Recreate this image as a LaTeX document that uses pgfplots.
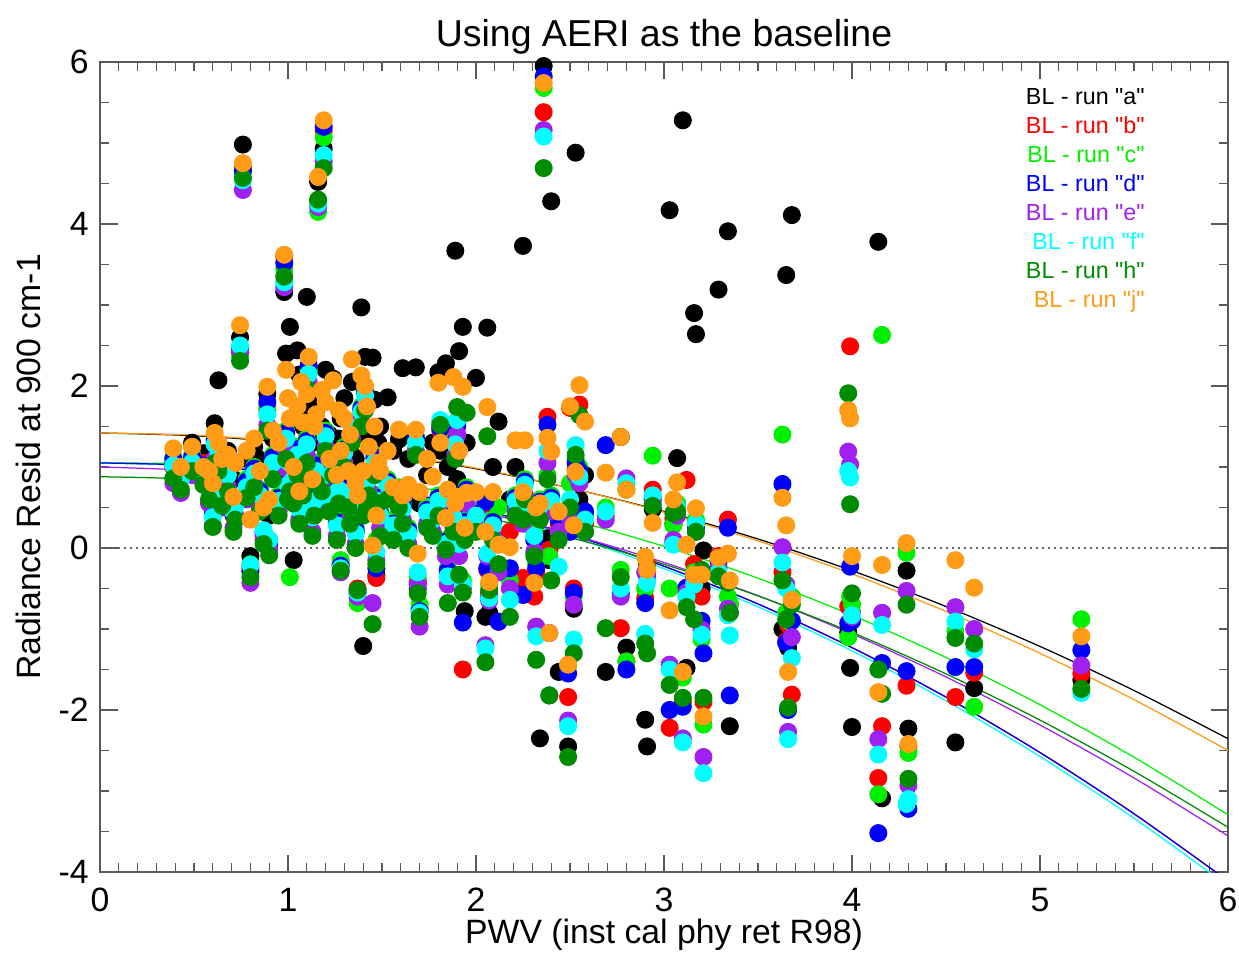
\documentclass[border=0pt]{standalone}
\usepackage{pgfplots}
\usepackage{pgfplotstable}
\pgfplotsset{compat=1.18}
\usepackage{fontspec}
\setmainfont{Liberation Sans}
\newfontfamily\legfont{Liberation Sans}
\definecolor{cA}{RGB}{0,0,0}
\definecolor{cB}{RGB}{255,0,0}
\definecolor{cC}{RGB}{0,240,0}
\definecolor{cD}{RGB}{0,0,255}
\definecolor{cE}{RGB}{160,32,240}
\definecolor{cF}{RGB}{0,255,255}
\definecolor{cH}{RGB}{0,140,0}
\definecolor{cJ}{RGB}{255,155,20}

\pgfplotstableread{
x a b c d e f h j
0.39 1.05 1.00 1.12 1.10 0.80 1.02 0.86 1.23
0.43 0.95 0.90 0.95 0.92 0.68 0.85 0.72 1.00
0.49 1.30 1.10 1.15 1.12 0.90 1.06 0.95 1.25
0.55 1.17 1.05 1.00 1.02 0.85 0.95 0.78 1.00
0.58 1.10 0.75 0.80 0.78 0.55 0.70 0.60 0.95
0.60 0.90 0.40 0.45 0.42 0.28 0.38 0.26 0.80
0.61 1.54 1.30 1.35 1.32 1.10 1.28 1.05 1.42
0.63 2.07 1.20 1.25 1.22 1.00 1.15 0.95 1.30
0.65 1.00 0.70 0.75 0.72 0.50 0.65 0.52 1.10
0.68 1.20 0.95 1.00 0.98 0.75 0.90 0.70 1.15
0.71 0.85 0.40 0.45 0.42 0.25 0.45 0.20 0.63
0.72 1.05 0.55 0.60 0.58 0.40 0.52 0.35 1.05
0.745 2.60 2.40 2.38 2.45 2.42 2.50 2.31 2.75
0.76 4.98 4.69 4.66 4.65 4.42 4.54 4.57 4.75
0.78 1.10 0.80 0.85 0.82 0.60 0.75 0.62 1.20
0.80 -0.10 -0.25 -0.20 -0.29 -0.43 -0.21 -0.36 0.35
0.82 1.25 0.95 1.00 0.98 0.78 0.92 0.75 1.35
0.85 1.09 0.70 0.72 0.70 0.50 0.65 0.45 0.95
0.87 0.60 0.10 0.20 0.18 0.15 0.22 0.05 0.50
0.89 1.90 1.70 1.75 1.80 1.52 1.65 1.45 1.99
0.90 0.40 0.00 0.10 0.05 -0.02 0.10 -0.09 0.60
0.92 1.35 1.10 1.15 1.12 0.95 1.05 0.85 1.45
0.95 1.20 0.60 0.65 0.62 0.45 0.58 0.40 1.30
0.98 3.16 3.60 3.45 3.52 3.22 3.28 3.35 3.62
0.99 2.40 1.40 1.45 1.42 1.20 1.35 1.10 2.20
1.00 1.30 0.80 0.85 0.82 0.65 0.78 0.60 1.85
1.01 2.73 1.15 -0.36 1.10 0.95 1.05 0.70 1.60
1.03 -0.15 0.85 0.90 0.88 0.70 0.85 0.55 1.00
1.05 2.44 1.20 1.25 1.22 1.00 1.15 0.90 1.75
1.06 2.14 0.50 0.55 0.52 0.35 0.48 0.30 0.70
1.07 1.60 1.00 1.05 1.02 0.85 0.98 0.75 2.05
1.08 1.50 0.90 0.95 0.92 0.75 0.88 0.65 1.55
1.10 3.10 1.30 1.35 1.32 1.15 1.28 1.05 1.90
1.11 1.80 2.25 2.20 2.25 2.05 2.15 1.95 2.36
1.13 1.30 0.40 0.45 0.42 0.20 0.38 0.15 0.85
1.14 1.40 0.60 0.65 0.62 0.45 0.58 0.40 1.50
1.15 1.70 1.00 1.05 1.02 0.85 0.95 0.80 1.65
1.16 4.52 4.28 4.15 4.25 4.21 4.25 4.30 4.58
1.18 1.50 0.90 0.95 0.92 0.75 0.88 0.70 1.95
1.19 4.93 5.15 5.07 5.20 4.77 4.85 4.69 5.28
1.20 2.20 1.40 1.45 1.42 1.25 1.38 1.20 1.80
1.22 1.40 0.65 0.70 0.68 0.50 0.62 0.45 1.10
1.24 2.09 1.10 1.15 1.12 0.95 1.05 0.90 2.07
1.26 1.20 0.30 0.35 0.32 0.15 0.28 0.10 0.90
1.27 1.35 0.75 0.80 0.78 0.60 0.72 0.55 1.70
1.28 1.60 -0.20 -0.15 -0.22 -0.30 -0.25 -0.28 1.20
1.30 1.85 1.20 1.25 1.22 1.05 1.18 1.00 1.60
1.32 1.30 0.70 0.75 0.72 0.55 0.68 0.50 0.95
1.33 1.25 0.50 0.55 0.52 0.35 0.48 0.30 1.40
1.34 2.05 1.50 1.55 1.52 1.35 1.48 1.30 2.33
1.36 1.10 0.20 0.25 0.22 0.05 0.18 0.00 0.80
1.37 0.90 -0.50 -0.68 -0.55 -0.60 -0.55 -0.52 0.65
1.39 2.97 1.70 1.75 1.72 1.55 1.68 1.50 2.13
1.40 -1.21 0.60 0.65 0.62 0.45 0.58 0.40 0.95
1.41 2.36 1.90 1.95 1.92 1.75 1.88 1.70 2.00
1.42 1.45 0.70 0.75 0.72 0.55 0.68 0.50 1.75
1.43 1.35 0.85 0.90 0.88 0.70 0.85 0.65 1.25
1.45 2.35 0.55 0.60 0.57 -0.68 0.52 -0.94 0.03
1.46 1.83 1.10 1.15 1.12 0.95 1.05 0.90 1.50
1.47 -0.33 -0.37 0.10 -0.25 -0.15 -0.05 -0.20 0.40
1.48 1.30 0.60 0.65 0.62 0.45 0.58 0.55 1.05
1.49 1.50 0.40 0.45 0.42 0.25 0.40 0.15 0.95
1.53 1.86 0.80 0.85 0.82 0.65 0.78 0.60 1.20
1.56 1.20 0.30 0.35 0.30 0.15 0.28 0.10 0.75
1.59 1.34 0.70 0.75 0.72 0.55 0.68 0.50 1.46
1.61 2.22 0.50 0.55 0.52 0.35 0.48 0.30 0.65
1.64 1.10 0.20 0.25 0.22 0.05 0.18 0.00 0.78
1.68 2.23 1.34 1.38 1.36 1.20 1.30 1.15 1.46
1.69 -0.43 -0.40 -0.35 -0.50 -0.45 -0.30 -0.56 -0.07
1.70 0.55 -0.75 -0.70 -0.78 -0.97 -0.80 -0.85 0.69
1.74 0.90 0.45 0.50 0.47 0.30 0.44 0.25 1.10
1.77 1.30 0.35 0.40 0.38 0.20 0.35 0.15 0.88
1.80 2.17 0.60 0.65 0.62 0.45 0.58 0.40 2.04
1.81 1.20 1.45 1.50 1.48 1.55 1.58 1.52 1.30
1.84 2.28 0.08 0.10 0.08 -0.10 0.05 -0.02 0.37
1.85 1.00 -0.30 -0.25 -0.28 -0.45 -0.35 -0.68 0.72
1.88 1.10 0.40 0.45 0.42 0.25 0.38 0.20 2.11
1.89 3.67 1.30 1.35 1.32 1.15 1.28 1.10 0.55
1.90 0.85 1.50 1.55 1.52 1.40 1.58 1.74 0.63
1.91 2.43 0.10 0.15 0.12 -0.10 0.05 -0.33 1.20
1.93 2.73 -1.50 -0.40 -0.92 -0.50 -0.45 -0.55 1.99
1.94 -0.78 0.30 0.35 0.32 0.15 0.28 0.10 0.25
1.95 1.30 0.70 0.75 0.72 0.55 0.68 1.67 0.68
2.00 2.10 0.40 0.45 0.42 0.25 0.40 0.20 0.69
2.05 -0.85 0.55 0.60 0.57 -1.20 -1.24 -1.41 0.20
2.06 2.72 -0.27 0.30 -0.25 -0.10 -0.07 1.38 1.74
2.07 -0.80 -0.55 -0.45 -0.60 -0.65 -0.62 -0.52 -0.42
2.09 1.00 0.30 0.35 0.32 0.15 0.28 0.10 0.69
2.12 1.56 -0.91 0.50 -0.91 -0.30 0.05 -0.20 0.04
2.18 0.60 0.20 -0.40 -0.25 -0.50 -0.64 -0.85 0.01
2.21 1.00 0.60 0.65 0.62 0.45 0.58 0.40 1.33
2.25 3.73 -0.37 0.55 -0.58 0.30 0.45 0.35 0.69
2.26 -0.48 0.80 0.85 0.82 0.65 0.78 0.60 1.33
2.31 0.40 -0.60 0.20 0.10 -0.05 0.15 -0.10 -0.43
2.32 0.30 -0.30 -0.20 -0.25 -0.97 -1.09 -1.38 0.50
2.34 -2.35 0.55 0.60 0.57 0.40 0.52 0.35 0.55
2.36 5.95 5.38 5.68 5.82 5.16 5.08 4.69 5.74
2.38 0.12 1.62 0.90 1.52 1.05 1.20 0.85 1.36
2.39 -0.15 -0.02 -0.10 -1.05 -1.82 -1.82 -1.82 -1.05
2.40 4.28 0.60 0.65 0.62 0.45 0.58 -0.40 1.19
2.44 -1.53 0.30 0.45 0.35 0.20 -0.23 0.10 0.45
2.49 -2.45 -1.84 -1.45 -1.55 -2.13 -2.20 -2.58 -1.44
2.50 0.50 1.73 0.80 0.20 0.35 0.60 0.50 1.75
2.52 -0.75 -0.50 -0.60 -0.55 -0.70 -1.13 -1.30 0.28
2.53 4.88 0.97 1.10 1.05 0.90 1.27 1.15 0.94
2.55 0.60 1.77 1.00 0.95 0.80 0.88 1.64 2.01
2.58 0.90 0.30 0.40 0.45 0.20 0.35 0.20 1.56
2.69 -1.53 0.40 0.50 1.27 0.35 0.45 -0.99 0.93
2.77 1.37 -0.99 -0.27 -0.56 -0.60 -0.50 -0.36 1.37
2.80 -1.23 -1.40 -1.40 -1.50 0.86 0.80 0.72 0.72
2.90 -2.12 -0.62 -0.50 -0.68 -0.30 -1.06 -1.18 -0.11
2.91 -2.45 -0.20 -0.25 -0.30 -0.35 -0.43 -1.30 -0.27
2.94 0.48 0.72 1.14 0.60 0.55 0.65 0.52 0.31
3.03 4.17 -2.22 -0.50 -2.00 -1.44 -1.50 -1.69 -0.77
3.05 0.30 0.37 0.28 0.07 0.10 0.04 0.43 0.60
3.07 1.11 0.50 0.55 0.45 0.40 0.50 0.45 0.81
3.10 5.28 -1.90 -1.60 -1.96 -2.35 -2.40 -1.85 -1.53
3.12 -1.48 0.84 -0.60 -0.49 -0.55 -0.60 -0.73 0.04
3.16 2.90 -0.20 -0.30 -0.35 -0.40 -0.45 -0.88 -0.33
3.17 2.64 0.30 0.35 0.25 0.20 0.30 0.20 0.49
3.20 -0.50 -0.60 -1.13 -0.90 -1.01 -1.07 -0.27 -0.33
3.21 -0.03 -1.90 -2.18 -1.30 -2.58 -2.78 -1.85 -2.08
3.29 3.19 -0.10 -0.20 -0.15 -0.25 -0.30 -0.35 -0.12
3.34 3.91 0.35 -0.60 0.25 -0.75 -0.83 -0.43 -0.07
3.35 -2.20 -0.70 -0.69 -1.82 -0.80 -1.08 -0.80 -0.40
3.63 -1.00 -0.30 1.40 0.79 0.01 -0.18 -0.40 0.62
3.65 3.37 -1.15 -0.80 -1.17 -0.45 -0.50 -0.88 0.28
3.66 -1.23 -0.95 -0.90 -2.00 -2.27 -2.36 -1.97 -1.53
3.68 4.11 -1.81 -0.60 -0.90 -1.10 -1.36 -0.70 -0.64
3.98 -1.04 -0.72 -1.10 -0.93 1.19 0.95 1.91 1.70
3.99 -1.48 2.49 -0.60 -0.23 1.03 0.87 0.54 1.60
4.00 -2.21 -0.80 -0.70 -0.90 -0.85 -0.83 -0.56 -0.10
4.14 3.78 -2.84 -3.04 -3.52 -2.36 -2.55 -1.50 -1.78
4.16 -3.09 -2.20 2.63 -1.42 -0.80 -0.95 -1.80 -0.21
4.29 -0.28 -1.70 -0.06 -1.52 -0.53 -3.16 -0.70 0.06
4.30 -2.23 -2.45 -2.53 -3.22 -2.93 -3.10 -2.85 -2.42
4.55 -2.40 -1.84 -1.03 -1.47 -0.73 -0.91 -1.11 -0.15
4.65 -1.73 -1.54 -1.96 -1.47 -1.00 -1.25 -1.18 -0.49
5.22 -1.63 -1.55 -0.88 -1.26 -1.45 -1.79 -1.74 -1.09
}\obs

\pgfplotstableread{
x a b c d e f h j
0.0 1.420 1.050 1.050 1.050 1.000 1.050 0.880 1.420
0.5 1.386 1.019 1.037 1.019 0.956 1.014 0.850 1.393
1.0 1.301 0.915 0.961 0.915 0.851 0.905 0.761 1.312
1.5 1.165 0.739 0.821 0.739 0.685 0.724 0.611 1.176
2.0 0.978 0.490 0.618 0.490 0.458 0.470 0.400 0.986
2.5 0.740 0.169 0.351 0.169 0.170 0.144 0.130 0.741
3.0 0.451 -0.225 0.021 -0.225 -0.179 -0.255 -0.201 0.442
3.5 0.111 -0.691 -0.373 -0.691 -0.589 -0.726 -0.591 0.088
4.0 -0.280 -1.230 -0.830 -1.230 -1.060 -1.270 -1.042 -0.320
4.5 -0.722 -1.841 -1.351 -1.841 -1.592 -1.886 -1.554 -0.783
5.0 -1.215 -2.525 -1.935 -2.525 -2.185 -2.575 -2.125 -1.300
5.5 -1.759 -3.281 -2.583 -3.281 -2.839 -3.336 -2.757 -1.872
6.0 -2.354 -4.110 -3.294 -4.110 -3.554 -4.170 -3.448 -2.498
}\fits

\begin{document}
\begin{tikzpicture}
\begin{axis}[
  name=ax,
  scale only axis,
  width=451.2pt, height=324pt,
  xmin=0, xmax=6, ymin=-4, ymax=6,
  xtick={0,1,2,3,4,5,6},
  ytick={-4,-2,0,2,4,6},
  xticklabels={0,1,2,3,4,5,6},
  yticklabels={-4,-2,0,2,4,6},
  minor x tick num=9,
  minor y tick num=3,
  tick align=inside,
  major tick length=7pt,
  minor tick length=3.5pt,
  axis line style={black!65, line width=0.5pt},
  every tick/.style={black!65, line width=0.5pt},
  tick label style={font=\fontsize{13.5}{16}\selectfont, text=black},
  /pgf/number format/assume math mode=true,
  xticklabel style={yshift=-3pt},
  yticklabel style={xshift=-1pt},
  title={Using AERI as the baseline},
  every axis title/.style={at={(0.5,1)}, anchor=base, yshift=6pt, font=\fontsize{15}{18}\selectfont},
  xlabel={PWV (inst cal phy ret R98)},
  every axis x label/.style={at={(0.5,0)}, anchor=base, yshift=-28.4pt, font=\fontsize{13.5}{16}\selectfont},
  ylabel={Radiance Resid at 900 cm-1},
  every axis y label/.style={at={(0,0.5)}, xshift=-23.6pt, rotate=90, anchor=base, font=\fontsize{13.5}{16}\selectfont},
]
\addplot[black!60, line width=0.5pt, dash pattern=on 0.6pt off 1.8pt] coordinates {(0,0) (6,0)};
\addplot[only marks, mark=*, mark size=3.4pt, color=cA] table[x=x,y=a] {\obs};
\addplot[only marks, mark=*, mark size=3.4pt, color=cB] table[x=x,y=b] {\obs};
\addplot[only marks, mark=*, mark size=3.4pt, color=cC] table[x=x,y=c] {\obs};
\addplot[only marks, mark=*, mark size=3.4pt, color=cD] table[x=x,y=d] {\obs};
\addplot[only marks, mark=*, mark size=3.4pt, color=cE] table[x=x,y=e] {\obs};
\addplot[only marks, mark=*, mark size=3.4pt, color=cF] table[x=x,y=f] {\obs};
\addplot[only marks, mark=*, mark size=3.4pt, color=cH] table[x=x,y=h] {\obs};
\addplot[only marks, mark=*, mark size=3.4pt, color=cJ] table[x=x,y=j] {\obs};
\addplot[no marks, smooth, line width=0.5pt, color=cA] table[x=x,y=a] {\fits};
\addplot[no marks, smooth, line width=0.5pt, color=cB] table[x=x,y=b] {\fits};
\addplot[no marks, smooth, line width=0.5pt, color=cC] table[x=x,y=c] {\fits};
\addplot[no marks, smooth, line width=0.5pt, color=cF] table[x=x,y=f] {\fits};
\addplot[no marks, smooth, line width=0.5pt, color=cD] table[x=x,y=d] {\fits};
\addplot[no marks, smooth, line width=0.5pt, color=cE] table[x=x,y=e] {\fits};
\addplot[no marks, smooth, line width=0.5pt, color=cH] table[x=x,y=h] {\fits};
\addplot[no marks, smooth, line width=0.5pt, color=cJ] table[x=x,y=j] {\fits};
\begin{scope}[every node/.style={anchor=base east, font=\legfont\fontsize{9.3}{11}\selectfont, inner sep=0pt}]
\node[text=cA] at (axis cs:5.559,5.47) {BL - run "a"};
\node[text=cB] at (axis cs:5.559,5.112) {BL - run "b"};
\node[text=cC] at (axis cs:5.559,4.754) {BL - run "c"};
\node[text=cD] at (axis cs:5.559,4.396) {BL - run "d"};
\node[text=cE] at (axis cs:5.559,4.038) {BL - run "e"};
\node[text=cF] at (axis cs:5.559,3.680) {BL - run "f"};
\node[text=cH] at (axis cs:5.559,3.322) {BL - run "h"};
\node[text=cJ] at (axis cs:5.559,2.964) {BL - run "j"};
\end{scope}
\end{axis}
\pgfresetboundingbox
\path ([shift={(-40pt,-32.4pt)}]ax.south west) rectangle ([shift={(4.4pt,24.8pt)}]ax.north east);
\end{tikzpicture}
\end{document}
